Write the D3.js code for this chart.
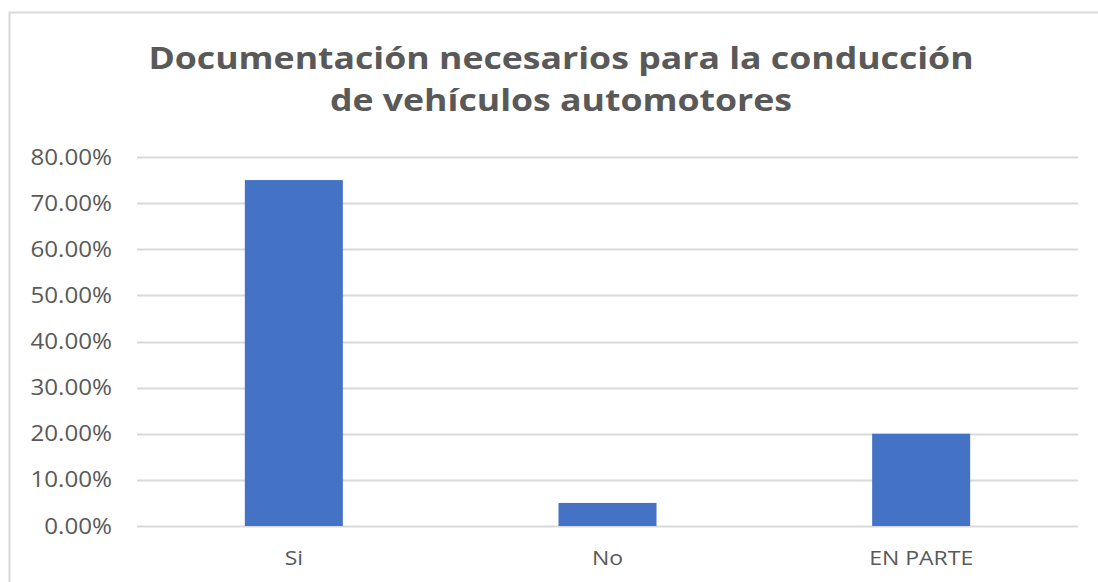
<!DOCTYPE html>
<meta charset="utf-8">
<style>
  body { margin: 0; background: #fff; }
  text { font-family: "Open Sans", "DejaVu Sans", sans-serif; fill: #595959; }
</style>
<body>
<div id="chart"></div>
<script src="https://d3js.org/d3.v7.js"></script>
<script>
  var categories = ["Si", "No", "EN PARTE"];
  var values = [0.75, 0.05, 0.20];
  var yTicks = [0, 0.1, 0.2, 0.3, 0.4, 0.5, 0.6, 0.7, 0.8];
  var titleLines = ["Documentación necesarios para la conducción", "de vehículos automotores"];

  var width = 1098, height = 582;
  var sx = 1.15; // source picture is a bit stretched sideways

  var svg = d3.select("#chart").append("svg")
    .attr("width", width)
    .attr("height", height);

  // chart frame (clipped on right/bottom like the source)
  svg.append("rect")
    .attr("x", 9.5).attr("y", 12.5)
    .attr("width", 1200).attr("height", 700)
    .attr("fill", "none")
    .attr("stroke", "#d9d9d9")
    .attr("stroke-width", 2);

  var x = d3.scaleBand()
    .domain(categories)
    .range([137, 1078])
    .paddingInner(0.6875)
    .paddingOuter(0.34375);

  var y = d3.scaleLinear()
    .domain([0, 0.8])
    .range([526, 157]);

  var fmt = d3.format(".2%");

  // gridlines
  svg.append("g")
    .selectAll("line")
    .data(yTicks)
    .join("line")
    .attr("x1", 137).attr("x2", 1078)
    .attr("y1", function(d) { return Math.round(y(d)) + 0.5; })
    .attr("y2", function(d) { return Math.round(y(d)) + 0.5; })
    .attr("stroke", "#d9d9d9")
    .attr("stroke-width", 2);

  // y tick labels
  svg.append("g")
    .selectAll("text")
    .data(yTicks)
    .join("text")
    .attr("transform", function(d) { return "translate(112," + y(d) + ") scale(" + sx + ",1)"; })
    .attr("dy", "0.36em")
    .attr("text-anchor", "end")
    .style("font-size", "21px")
    .text(function(d) { return fmt(d); });

  // bars
  svg.append("g")
    .selectAll("rect")
    .data(values)
    .join("rect")
    .attr("x", function(d, i) { return x(categories[i]); })
    .attr("y", function(d) { return y(d); })
    .attr("width", x.bandwidth())
    .attr("height", function(d) { return y(0) - y(d); })
    .attr("fill", "#4472c4");

  // x labels
  svg.append("g")
    .selectAll("text")
    .data(categories)
    .join("text")
    .attr("transform", function(d) { return "translate(" + (x(d) + x.bandwidth() / 2) + ",565) scale(" + sx + ",1)"; })
    .attr("text-anchor", "middle")
    .style("font-size", "20px")
    .text(function(d) { return d; });

  // title
  svg.append("g")
    .selectAll("text")
    .data(titleLines)
    .join("text")
    .attr("transform", function(d, i) { return "translate(561," + (69 + i * 42) + ") scale(" + sx + ",1)"; })
    .attr("text-anchor", "middle")
    .style("font-size", "31px")
    .style("font-weight", "bold")
    .text(function(d) { return d; });
</script>
</body>
